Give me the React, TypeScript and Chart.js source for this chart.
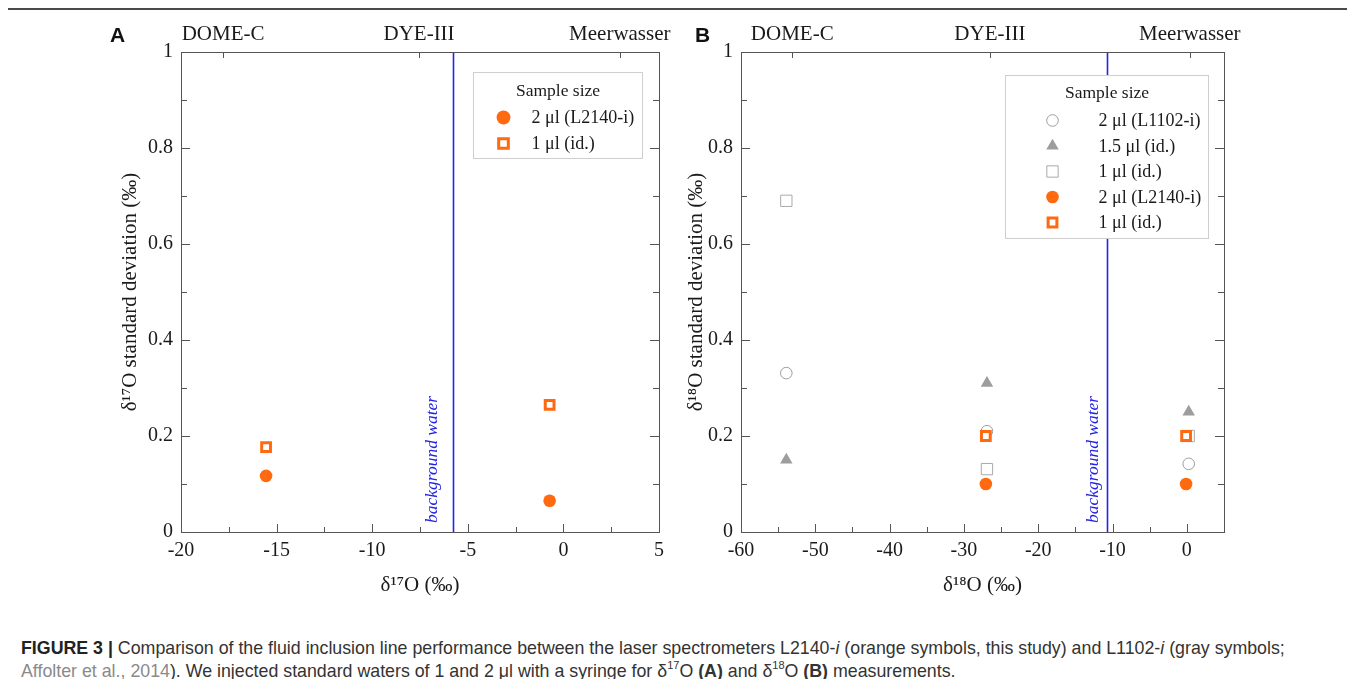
import React, { useEffect, useRef } from 'react';
import { Chart, registerables, PointElement } from 'chart.js';
Chart.register(...registerables);

// ---------- data ----------
const SITE_LABELS = ['DOME-C', 'DYE-III', 'Meerwasser'];

// Panel A (δ17O)
const A_X_L2140 = [-15.55, -0.72];
const A_Y_2UL_L2140 = [0.117, 0.065];
const A_Y_1UL_L2140 = [0.177, 0.265];
const A_SITE_TICKS = [-17.8, -7.55, 2.95];
const A_BACKGROUND_WATER = -5.75;

// Panel B (δ18O)
const B_X_L1102 = [-53.9, -26.9, 0.25];
const B_Y_2UL_L1102 = [0.331, 0.21, 0.142];
const B_Y_15UL_L1102 = [0.15, 0.31, 0.25];
const B_Y_1UL_L1102 = [0.69, 0.131, 0.2];
const B_X_L2140 = [-27.05, -0.1];
const B_Y_2UL_L2140 = [0.1, 0.1];
const B_Y_1UL_L2140 = [0.2, 0.2];
const B_SITE_TICKS = [-53.1, -26.5, 0.4];
const B_BACKGROUND_WATER = -10.8;

// ---------- styles ----------
const ORANGE = '#ff6a10';
const GRAY = '#9d9d9d';
const AXIS = '#555555';
const TEXT = '#1a1a1a';
const BLUE = '#2323e6';
const SERIF = "'Liberation Serif', 'Times New Roman', serif";

type Mk = { pointStyle: string; radius: number; bg: string; border: string; bw: number };
const MK_ORANGE_CIRCLE: Mk = { pointStyle: 'circle', radius: 6.3, bg: ORANGE, border: ORANGE, bw: 0 };
const MK_ORANGE_SQUARE: Mk = { pointStyle: 'rect', radius: 6.2, bg: '#ffffff', border: ORANGE, bw: 3 };
const MK_GRAY_CIRCLE: Mk = { pointStyle: 'circle', radius: 5.8, bg: 'rgba(255,255,255,0)', border: GRAY, bw: 1 };
const MK_GRAY_TRIANGLE: Mk = { pointStyle: 'triangle', radius: 7.2, bg: GRAY, border: GRAY, bw: 0 };
const MK_GRAY_SQUARE: Mk = { pointStyle: 'rect', radius: 8, bg: 'rgba(255,255,255,0)', border: '#aaaaaa', bw: 1 };

type Series = { label: string; xs: number[]; ys: number[]; mk: Mk; order: number };

type LegendSpec = {
  right: number; top: number; width: number; height: number;
  titleDy: number; firstDy: number; rowGap: number; markerDx: number; textDx: number;
  legendScale: number;
};

type Panel = {
  xMin: number; xMax: number; xStep: number; includeBounds: boolean;
  siteTicks: number[]; background: number; bgTextGap: number;
  xTitle: string; yTitle: string;
  series: Series[];
  yAxisWidth: number; yTitlePad: number; padRight: number;
  legend: LegendSpec;
};

const PANEL_A: Panel = {
  xMin: -20, xMax: 5, xStep: 5, includeBounds: true,
  siteTicks: A_SITE_TICKS, background: A_BACKGROUND_WATER, bgTextGap: 17,
  xTitle: 'δ¹⁷O (‰)', yTitle: 'δ¹⁷O standard deviation (‰)',
  series: [
    { label: '2 μl (L2140-i)', xs: A_X_L2140, ys: A_Y_2UL_L2140, mk: MK_ORANGE_CIRCLE, order: 1 },
    { label: '1 μl (id.)', xs: A_X_L2140, ys: A_Y_1UL_L2140, mk: MK_ORANGE_SQUARE, order: 1 },
  ],
  yAxisWidth: 81, yTitlePad: 18, padRight: 21,
  legend: { right: 17, top: 20, width: 169, height: 86, titleDy: 19, firstDy: 45, rowGap: 26, markerDx: 30, textDx: 58, legendScale: 1.1 },
};

const PANEL_B: Panel = {
  xMin: -60, xMax: 5, xStep: 10, includeBounds: false,
  siteTicks: B_SITE_TICKS, background: B_BACKGROUND_WATER, bgTextGap: 10,
  xTitle: 'δ¹⁸O (‰)', yTitle: 'δ¹⁸O standard deviation (‰)',
  series: [
    { label: '2 μl (L1102-i)', xs: B_X_L1102, ys: B_Y_2UL_L1102, mk: MK_GRAY_CIRCLE, order: 2 },
    { label: '1.5 μl (id.)', xs: B_X_L1102, ys: B_Y_15UL_L1102, mk: MK_GRAY_TRIANGLE, order: 2 },
    { label: '1 μl (id.)', xs: B_X_L1102, ys: B_Y_1UL_L1102, mk: MK_GRAY_SQUARE, order: 2 },
    { label: '2 μl (L2140-i)', xs: B_X_L2140, ys: B_Y_2UL_L2140, mk: MK_ORANGE_CIRCLE, order: 1 },
    { label: '1 μl (id.)', xs: B_X_L2140, ys: B_Y_1UL_L2140, mk: MK_ORANGE_SQUARE, order: 1 },
  ],
  yAxisWidth: 61, yTitlePad: 4, padRight: 26,
  legend: { right: 16, top: 23, width: 203, height: 163, titleDy: 18, firstDy: 45, rowGap: 25.5, markerDx: 47, textDx: 93, legendScale: 1.0 },
};

const CANVAS_H = 590;
const TOP_AXIS_H = 37;
const BOTTOM_AXIS_H = 73;

function decorPlugin(p: Panel) {
  return {
    id: 'decor',
    beforeDatasetsDraw(chart: any) {
      const { ctx, chartArea: ca, scales } = chart;
      const x = scales.x, y = scales.y, xt = scales.xTop;
      ctx.save();
      // background water line
      const bx = Math.round(x.getPixelForValue(p.background)) + 0.5;
      ctx.strokeStyle = BLUE;
      ctx.lineWidth = 1.6;
      ctx.beginPath();
      ctx.moveTo(bx, ca.top);
      ctx.lineTo(bx, ca.bottom);
      ctx.stroke();
      ctx.save();
      ctx.translate(bx - p.bgTextGap, ca.bottom - 9);
      ctx.rotate(-Math.PI / 2);
      ctx.fillStyle = BLUE;
      ctx.font = `italic 17.5px ${SERIF}`;
      ctx.textAlign = 'left';
      ctx.textBaseline = 'alphabetic';
      ctx.fillText('background water', 0, 0);
      ctx.restore();

      // frame box
      ctx.strokeStyle = AXIS;
      ctx.lineWidth = 1;
      ctx.strokeRect(Math.round(ca.left) + 0.5, Math.round(ca.top) + 0.5, Math.round(ca.right - ca.left), Math.round(ca.bottom - ca.top));

      ctx.beginPath();
      // bottom ticks (major + minor)
      const half = p.xStep / 2;
      for (let v = p.xMin; v <= p.xMax + 1e-9; v += half) {
        const px = Math.round(x.getPixelForValue(v)) + 0.5;
        const major = Math.abs(v / p.xStep - Math.round(v / p.xStep)) < 1e-6;
        const len = major ? 8 : 5;
        ctx.moveTo(px, ca.bottom);
        ctx.lineTo(px, ca.bottom - len);
      }
      // left & right ticks
      for (let i = 0; i <= 10; i++) {
        const v = i / 10;
        const py = Math.round(y.getPixelForValue(v)) + 0.5;
        const len = i % 2 === 0 ? 9 : 6;
        ctx.moveTo(ca.left, py);
        ctx.lineTo(ca.left + len, py);
        ctx.moveTo(ca.right, py);
        ctx.lineTo(ca.right - len, py);
      }
      // top site ticks
      for (const t of xt.ticks) {
        const px = Math.round(xt.getPixelForValue(t.value)) + 0.5;
        ctx.moveTo(px, ca.top);
        ctx.lineTo(px, ca.top + 6);
      }
      ctx.stroke();
      ctx.restore();
    },
    afterDraw(chart: any) {
      const { ctx, chartArea: ca } = chart;
      const L = p.legend;
      const left = Math.round(ca.right - L.right - L.width) + 0.5;
      const top = Math.round(ca.top + L.top) + 0.5;
      ctx.save();
      ctx.fillStyle = '#ffffff';
      ctx.fillRect(left, top, L.width, L.height);
      ctx.strokeStyle = '#cfcfcf';
      ctx.lineWidth = 1;
      ctx.strokeRect(left, top, L.width, L.height);
      ctx.fillStyle = TEXT;
      ctx.font = `17.5px ${SERIF}`;
      ctx.textAlign = 'center';
      ctx.textBaseline = 'middle';
      ctx.fillText('Sample size', left + L.width / 2, top + L.titleDy);
      ctx.textAlign = 'left';
      ctx.font = `18px ${SERIF}`;
      p.series.forEach((s, i) => {
        const cy = top + L.firstDy + i * L.rowGap;
        const pt: any = new PointElement({});
        pt.x = left + L.markerDx;
        pt.y = cy;
        pt.options = {
          pointStyle: s.mk.pointStyle, rotation: 0, radius: s.mk.radius * L.legendScale,
          borderWidth: s.mk.bw, borderColor: s.mk.border, backgroundColor: s.mk.bg,
        };
        pt.draw(ctx);
        ctx.fillStyle = TEXT;
        ctx.fillText(s.label, left + L.textDx, cy + 1);
      });
      ctx.restore();
    },
  };
}

function buildConfig(p: Panel): any {
  return {
    type: 'scatter',
    data: {
      datasets: p.series.map((s) => ({
        label: s.label,
        data: s.xs.map((x, i) => ({ x, y: s.ys[i] })),
        pointStyle: s.mk.pointStyle,
        pointRadius: s.mk.radius,
        pointHoverRadius: s.mk.radius,
        pointBackgroundColor: s.mk.bg,
        pointBorderColor: s.mk.border,
        pointBorderWidth: s.mk.bw,
        order: s.order,
        showLine: false,
      })),
    },
    options: {
      responsive: false,
      animation: false,
      events: [],
      layout: { padding: { left: 0, right: p.padRight, top: 0, bottom: 0 } },
      plugins: { legend: { display: false }, tooltip: { enabled: false } },
      scales: {
        x: {
          type: 'linear', position: 'bottom', min: p.xMin, max: p.xMax,
          ticks: { stepSize: p.xStep, includeBounds: p.includeBounds, padding: 7, color: TEXT, font: { size: 20, family: SERIF }, maxRotation: 0, autoSkip: false },
          grid: { display: false, drawTicks: false }, border: { display: false },
          title: { display: true, text: p.xTitle, color: TEXT, font: { size: 21, family: SERIF }, padding: { top: 0, bottom: 7 } },
          afterFit: (s: any) => { s.height = BOTTOM_AXIS_H; },
        },
        xTop: {
          type: 'linear', axis: 'x', position: 'top', min: p.xMin, max: p.xMax,
          afterBuildTicks: (s: any) => { s.ticks = p.siteTicks.map((v) => ({ value: v })); },
          ticks: { callback: (_v: any, i: number) => SITE_LABELS[i], padding: 5, color: TEXT, font: { size: 21, family: SERIF }, maxRotation: 0, autoSkip: false },
          grid: { display: false, drawTicks: false }, border: { display: false },
          afterFit: (s: any) => { s.height = TOP_AXIS_H; },
        },
        y: {
          type: 'linear', position: 'left', min: 0, max: 1,
          ticks: { stepSize: 0.2, padding: 8, color: TEXT, font: { size: 20, family: SERIF }, callback: (v: any) => String(Number(Number(v).toFixed(1))) },
          grid: { display: false, drawTicks: false }, border: { display: false },
          title: { display: true, text: p.yTitle, color: TEXT, font: { size: 21, family: SERIF }, padding: { top: p.yTitlePad, bottom: 0 } },
          afterFit: (s: any) => { s.width = p.yAxisWidth; },
        },
      },
    },
    plugins: [decorPlugin(p)],
  };
}

function ChartPanel({ panel, left, width }: { panel: Panel; left: number; width: number }) {
  const ref = useRef<HTMLCanvasElement | null>(null);
  useEffect(() => {
    if (!ref.current) return;
    const chart = new Chart(ref.current, buildConfig(panel));
    return () => chart.destroy();
  }, [panel]);
  return (
    <canvas
      ref={ref}
      width={width}
      height={CANVAS_H}
      style={{ position: 'absolute', left, top: 15, width, height: CANVAS_H }}
    />
  );
}

const PANEL_LETTER: React.CSSProperties = {
  position: 'absolute', top: 22, fontFamily: "'Liberation Sans', Arial, sans-serif",
  fontWeight: 'bold', fontSize: 21, color: '#111', lineHeight: '26px',
};

const SUP: React.CSSProperties = { fontSize: 11, lineHeight: 0, position: 'relative', top: -1 };

export default function App() {
  return (
    <div style={{ position: 'relative', width: 1355, height: 687, overflow: 'hidden', margin: -8, background: '#fff' }}>
      <div style={{ position: 'absolute', left: 7, top: 8, right: 0, bottom: 0, borderTop: '2px solid #4a4a4a', borderLeft: '1px solid #4a4a4a' }} />
      <ChartPanel panel={PANEL_A} left={100} width={580} />
      <ChartPanel panel={PANEL_B} left={680} width={570} />
      <div style={{ ...PANEL_LETTER, left: 110 }}>A</div>
      <div style={{ ...PANEL_LETTER, left: 695 }}>B</div>
      <div
        style={{
          position: 'absolute', left: 21, top: 637, whiteSpace: 'nowrap',
          fontFamily: "'Liberation Sans', Arial, sans-serif",
          fontSize: 17.8, lineHeight: '23px', color: '#333',
        }}
      >
        <div>
          <b style={{ color: '#222' }}>FIGURE 3 |</b> Comparison of the fluid inclusion line performance between the laser spectrometers L2140-<i>i</i> (orange symbols, this study) and L1102-<i>i</i> (gray symbols;
        </div>
        <div>
          <span style={{ color: '#8a8a8a' }}>Affolter et al., 2014</span>). We injected standard waters of 1 and 2 μl with a syringe for δ<sup style={SUP}>17</sup>O <b>(A)</b> and δ<sup style={SUP}>18</sup>O <b>(B)</b> measurements.
        </div>
      </div>
    </div>
  );
}
